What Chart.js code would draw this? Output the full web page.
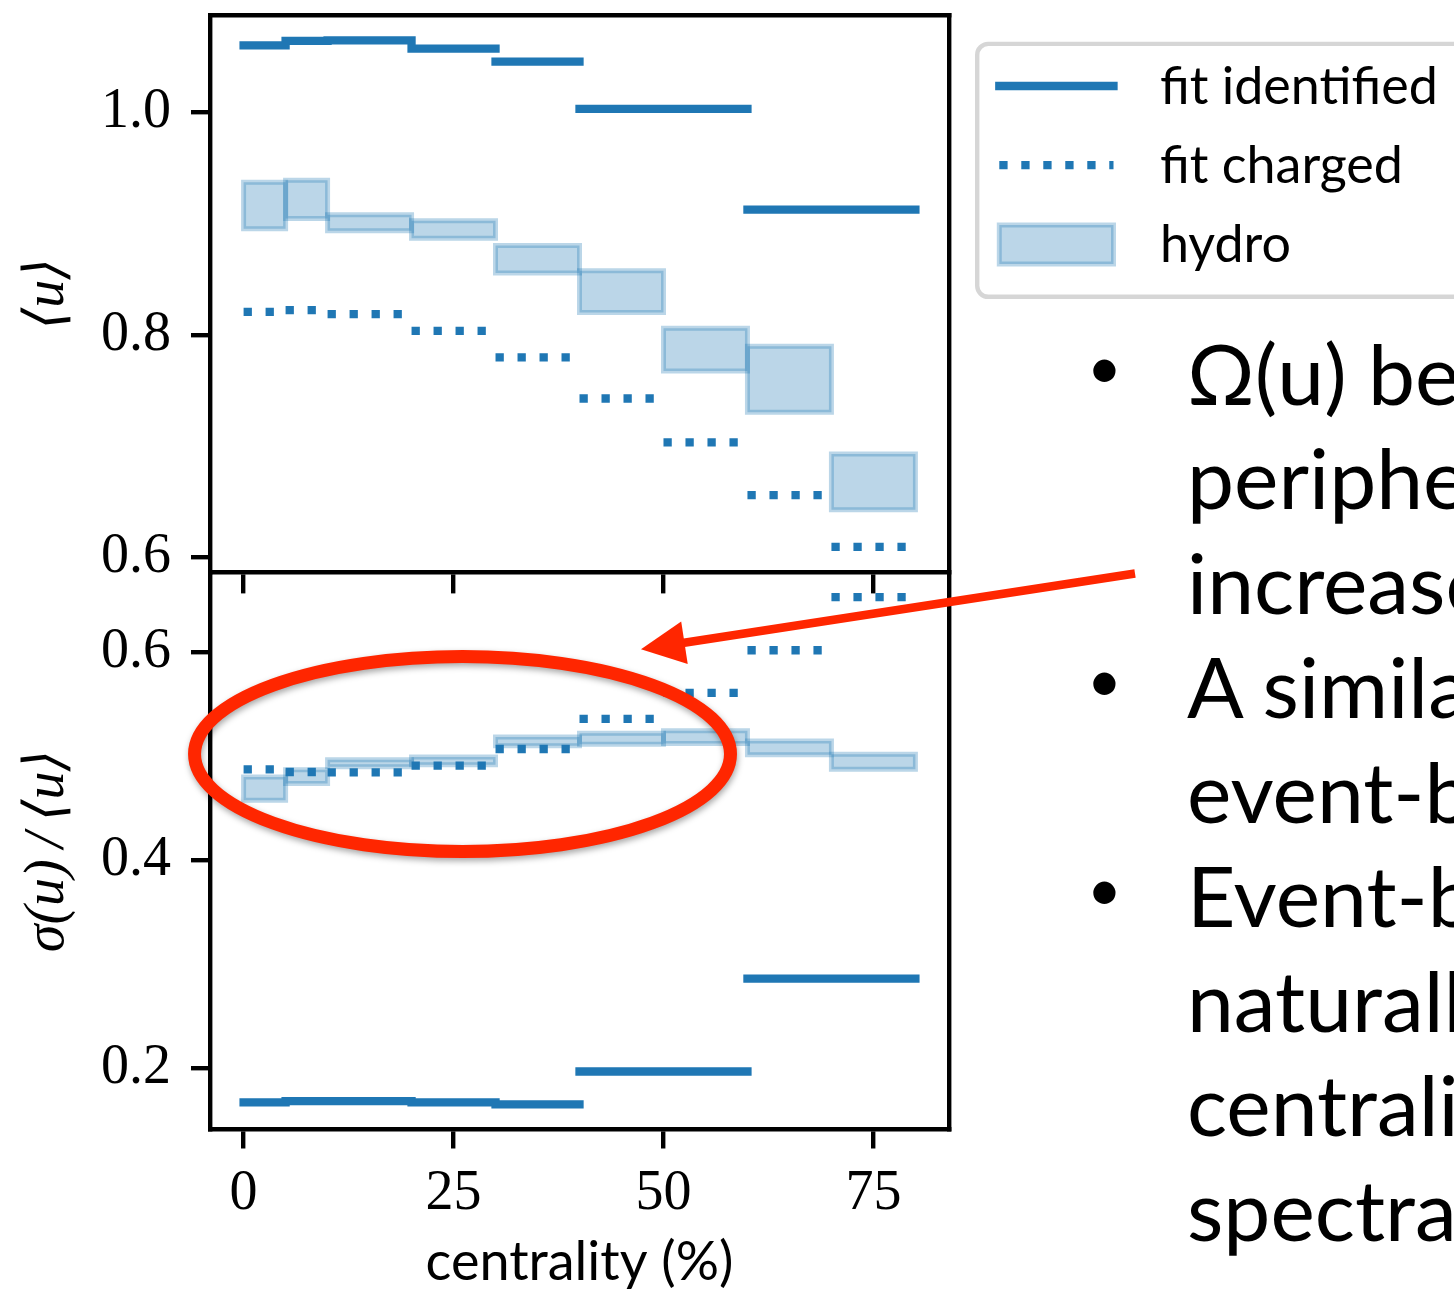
<!DOCTYPE html>
<html lang="en">
<head>
<meta charset="utf-8">
<title>Mean and width of the flow velocity distribution vs centrality</title>
<script src="https://cdn.jsdelivr.net/npm/chart.js@4.4.1/dist/chart.umd.min.js"></script>
<style>
  html, body { margin: 0; padding: 0; background: #fff; }
  #stage { position: relative; width: 1454px; height: 1295px; overflow: hidden; background: #fff; }
  #plot { position: absolute; left: 0; top: 0; }
  #notes { position: absolute; left: 1187px; top: 0; font-family: 'Lato', sans-serif; font-size: 84px; color: #000; }
  #notes div { position: absolute; left: 0; white-space: nowrap; line-height: 84px; height: 84px; }
  #notes .dot { left: -100px; font-size: 60px; margin-top: -7px; }
</style>
</head>
<body>
<div id="stage">
  <canvas id="plot" width="1454" height="1295"></canvas>
  <div id="notes"></div>
</div>
<script>
// ---- centrality bins (%) ----
const identifiedEdges = [0, 5, 10, 20, 30, 40, 60, 80];
const chargedEdges    = [0, 5, 10, 20, 30, 40, 50, 60, 70, 80];
const hydroEdges      = [0, 5, 10, 20, 30, 40, 50, 60, 70, 80];

// ---- upper panel: <u> ----
const meanIdentified = [1.0603, 1.0643, 1.0648, 1.0573, 1.0457, 1.0032, 0.9126];
const meanCharged    = [0.8208, 0.8223, 0.8188, 0.8037, 0.7798, 0.7429, 0.7034, 0.6560, 0.6095];
const meanHydroLow   = [0.8954, 0.9047, 0.8936, 0.8870, 0.8556, 0.8202, 0.7677, 0.7306, 0.6428];
const meanHydroHigh  = [0.9373, 0.9391, 0.9080, 0.9026, 0.8804, 0.8576, 0.8061, 0.7899, 0.6931];

// ---- lower panel: sigma(u)/<u> ----
const widthIdentified = [0.1673, 0.1685, 0.1685, 0.1673, 0.1654, 0.1971, 0.2863];
const widthCharged    = [0.4877, 0.4851, 0.4848, 0.4912, 0.5072, 0.5362, 0.5612, 0.6022, 0.6533];
const widthHydroLow   = [0.4580, 0.4740, 0.4901, 0.4921, 0.5104, 0.5118, 0.5125, 0.5017, 0.4878];
const widthHydroHigh  = [0.4803, 0.4872, 0.4968, 0.4995, 0.5187, 0.5224, 0.5247, 0.5149, 0.5022];

// ---- labels and ticks ----
const seriesLabels    = ['fit identified', 'fit charged', 'hydro'];
const meanTicks       = [0.6, 0.8, 1.0];
const widthTicks      = [0.2, 0.4, 0.6];
const centralityTicks = [0, 25, 50, 75];
const noteLines = [
  { text: 'Ω(u) becomes', bullet: true },
  { text: 'peripheral', bullet: false },
  { text: 'increases', bullet: false },
  { text: 'A similar', bullet: true },
  { text: 'event-by-event', bullet: false },
  { text: 'Event-by-event', bullet: true },
  { text: 'naturally', bullet: false },
  { text: 'centrality', bullet: false },
  { text: 'spectra', bullet: false }
];

// ---- styles ----
const BLUE = '#1f77b4';
const HYDRO = 'rgba(31,119,180,0.3)';
const LW = 8.3;
const SPINE = 4.4;
const SERIF = "'Liberation Serif', 'DejaVu Serif', serif";
const SANS = "'Lato', 'Liberation Sans', sans-serif";

const identifiedStyle = { borderColor: BLUE, borderWidth: LW, borderCapStyle: 'square' };
const chargedStyle = { borderColor: BLUE, borderWidth: LW, borderDash: [LW, LW * 1.65], borderCapStyle: 'butt' };
const hydroStyle = { borderColor: HYDRO, backgroundColor: HYDRO, borderWidth: 5, borderJoinStyle: 'miter',
                     borderCapStyle: 'square', fill: 'shape' };
const common = { pointRadius: 0, pointHoverRadius: 0, tension: 0, spanGaps: false };

// horizontal step per bin, broken between bins
function stepPoints(edges, values) {
  const pts = [];
  values.forEach((v, i) => {
    if (i) pts.push({ x: edges[i], y: null });
    pts.push({ x: edges[i], y: v }, { x: edges[i + 1], y: v });
  });
  return pts;
}
// closed rectangle for one bin of the hydro band
function boxPoints(x0, x1, lo, hi) {
  return [{ x: x0, y: lo }, { x: x1, y: lo }, { x: x1, y: hi }, { x: x0, y: hi }, { x: x0, y: lo }];
}

const datasets = [];
function addPanel(axisId, ident, charged, low, high) {
  datasets.push({ label: seriesLabels[0], yAxisID: axisId, data: stepPoints(identifiedEdges, ident), ...common, ...identifiedStyle });
  datasets.push({ label: seriesLabels[1], yAxisID: axisId, data: stepPoints(chargedEdges, charged), ...common, ...chargedStyle });
  low.forEach((lo, i) => {
    datasets.push({ label: seriesLabels[2], yAxisID: axisId,
                    data: boxPoints(hydroEdges[i], hydroEdges[i + 1], lo, high[i]), ...common, ...hydroStyle });
  });
}
addPanel('yTop', meanIdentified, meanCharged, meanHydroLow, meanHydroHigh);
addPanel('yBot', widthIdentified, widthCharged, widthHydroLow, widthHydroHigh);

// axis limits
const X_MIN = -4, X_MAX = 84;
const TOP_MIN = 0.5867, TOP_MAX = 1.0876;
const BOT_MIN = 0.1413, BOT_MAX = 0.6772;

const tickFont = { family: SERIF, size: 56 };
const frameGrid = { drawOnChartArea: false, color: '#000', lineWidth: SPINE, tickLength: 19 };
const frameBorder = { display: true, color: '#000', width: SPINE };
const fixedTicks = list => scale => { scale.ticks = list.map(v => ({ value: v })); };
// fixed box size, no extra room reserved for overhanging labels
const fitBox = (w, h) => scale => {
  if (w !== null) scale.width = w;
  if (h !== null) scale.height = h;
  scale.paddingTop = scale.paddingBottom = scale.paddingLeft = scale.paddingRight = 0;
};

// annotation: ring around the central bins and a pointer to it (lower panel units)
const ring = { x: 26.07, y: 0.5024, rx: 31.91, ry: 0.0938, width: 13 };
const pointer = { fromX: 106.15, fromY: 0.6760, toX: 47.32, toY: 0.6031, width: 8.5, head: 44, half: 21.5 };
const RED = '#ff2600';

const overlayPlugin = {
  id: 'overlay',
  afterDraw(chart) {
    const { ctx, chartArea, scales } = chart;
    const ds = chart.data.datasets;

    // legend box to the right of the panels
    const fx = chartArea.right + 28.2;
    const fy = chartArea.top + 28.9;
    ctx.save();
    ctx.beginPath();
    ctx.roundRect(fx, fy, 560, 252.9, 11);
    ctx.fillStyle = 'rgba(255,255,255,0.8)';
    ctx.fill();
    ctx.lineWidth = SPINE;
    ctx.strokeStyle = 'rgba(204,204,204,0.8)';
    ctx.stroke();

    const hx0 = fx + 22.1, hx1 = fx + 136.3;
    seriesLabels.forEach((label, i) => {
      const cy = fy + 42.1 + i * 79.2;
      const d = ds[i];
      ctx.save();
      if (i < 2) {
        ctx.beginPath();
        ctx.moveTo(hx0, cy);
        ctx.lineTo(hx1, cy);
        ctx.lineWidth = d.borderWidth;
        ctx.strokeStyle = d.borderColor;
        ctx.lineCap = d.borderCapStyle;
        ctx.setLineDash(d.borderDash || []);
        ctx.stroke();
      } else {
        ctx.beginPath();
        ctx.rect(hx0, cy - 19.5, hx1 - hx0, 39);
        ctx.fillStyle = d.backgroundColor;
        ctx.fill();
        ctx.lineWidth = d.borderWidth;
        ctx.strokeStyle = d.borderColor;
        ctx.lineJoin = 'miter';
        ctx.stroke();
      }
      ctx.restore();
      ctx.fillStyle = '#000';
      ctx.font = '52px ' + SANS;
      ctx.textBaseline = 'middle';
      ctx.textAlign = 'left';
      ctx.fillText(label, fx + 182.8, cy + 1);
    });

    // red ring
    const xs = scales.x, ys = scales.yBot;
    const cx = xs.getPixelForValue(ring.x), cy = ys.getPixelForValue(ring.y);
    const rx = xs.getPixelForValue(ring.x + ring.rx) - cx;
    const ry = cy - ys.getPixelForValue(ring.y + ring.ry);
    ctx.save();
    ctx.shadowColor = 'rgba(0,0,0,0.35)';
    ctx.shadowBlur = 6;
    ctx.shadowOffsetX = 1;
    ctx.shadowOffsetY = 3;
    ctx.beginPath();
    ctx.ellipse(cx, cy, rx, ry, 0, 0, Math.PI * 2);
    ctx.lineWidth = ring.width;
    ctx.strokeStyle = RED;
    ctx.stroke();
    ctx.restore();

    // red pointer
    const ax = xs.getPixelForValue(pointer.fromX), ay = ys.getPixelForValue(pointer.fromY);
    const bx = xs.getPixelForValue(pointer.toX), by = ys.getPixelForValue(pointer.toY);
    const len = Math.hypot(bx - ax, by - ay);
    const ux = (bx - ax) / len, uy = (by - ay) / len;
    const baseX = bx - ux * pointer.head, baseY = by - uy * pointer.head;
    ctx.beginPath();
    ctx.moveTo(ax, ay);
    ctx.lineTo(baseX + ux * 2, baseY + uy * 2);
    ctx.lineWidth = pointer.width;
    ctx.strokeStyle = RED;
    ctx.lineCap = 'butt';
    ctx.stroke();
    ctx.beginPath();
    ctx.moveTo(bx, by);
    ctx.lineTo(baseX - uy * pointer.half, baseY + ux * pointer.half);
    ctx.lineTo(baseX + uy * pointer.half, baseY - ux * pointer.half);
    ctx.closePath();
    ctx.fillStyle = RED;
    ctx.fill();
    ctx.restore();
  }
};

new Chart(document.getElementById('plot'), {
  type: 'line',
  data: { datasets },
  plugins: [overlayPlugin],
  options: {
    responsive: false,
    animation: false,
    devicePixelRatio: 1,
    events: [],
    layout: { padding: { left: 0, top: 15, right: 505, bottom: 0 } },
    plugins: { legend: { display: false }, tooltip: { enabled: false } },
    scales: {
      x: {
        type: 'linear', position: 'bottom', min: X_MIN, max: X_MAX,
        afterBuildTicks: fixedTicks(centralityTicks),
        ticks: { font: tickFont, color: '#000', padding: 12, maxRotation: 0, autoSkip: false, callback: v => String(v) },
        grid: frameGrid, border: frameBorder,
        title: { display: true, text: 'centrality (%)', color: '#000', font: { family: SANS, size: 54 }, padding: { top: 0, bottom: 0 } },
        afterFit: fitBox(null, 165.5)
      },
      xMid: {
        type: 'linear', position: { yTop: TOP_MIN }, min: X_MIN, max: X_MAX,
        afterBuildTicks: fixedTicks(centralityTicks),
        ticks: { display: false },
        grid: frameGrid, border: frameBorder,
        afterFit: fitBox(null, 0)
      },
      xTop: {
        type: 'linear', position: 'top', min: X_MIN, max: X_MAX,
        ticks: { display: false },
        grid: { drawOnChartArea: false, drawTicks: false, lineWidth: SPINE },
        border: frameBorder,
        afterFit: fitBox(null, 0)
      },
      yTop: {
        type: 'linear', position: 'left', stack: 'panels', stackWeight: 1, weight: 1,
        min: TOP_MIN, max: TOP_MAX,
        afterBuildTicks: fixedTicks(meanTicks),
        ticks: { font: tickFont, color: '#000', padding: 20, callback: v => v.toFixed(1) },
        grid: frameGrid, border: frameBorder,
        title: { display: true, text: '⟨u⟩', color: '#000', font: { family: SERIF, size: 56, style: 'italic' }, padding: { top: 15, bottom: 0 } },
        afterFit: fitBox(210, null)
      },
      yBot: {
        type: 'linear', position: 'left', stack: 'panels', stackWeight: 1, weight: 0,
        min: BOT_MIN, max: BOT_MAX,
        afterBuildTicks: fixedTicks(widthTicks),
        ticks: { font: tickFont, color: '#000', padding: 20, callback: v => v.toFixed(1) },
        grid: frameGrid, border: frameBorder,
        title: { display: true, text: 'σ(u)\u2009/\u2009⟨u⟩', color: '#000', font: { family: SERIF, size: 56, style: 'italic' }, padding: { top: 15, bottom: 0 } },
        afterFit: fitBox(210, null)
      },
      yRight: {
        type: 'linear', position: 'right', min: 0, max: 1,
        ticks: { display: false },
        grid: { drawOnChartArea: false, drawTicks: false, lineWidth: SPINE },
        border: frameBorder,
        afterFit: fitBox(0, null)
      }
    }
  }
});

// slide text beside the figure
const notes = document.getElementById('notes');
const FIRST_BASELINE = 405, PITCH = 104.5, BASE_OFFSET = 74.5;
noteLines.forEach((line, i) => {
  const top = FIRST_BASELINE + i * PITCH - BASE_OFFSET;
  const row = document.createElement('div');
  row.style.top = top + 'px';
  row.textContent = line.text;
  notes.appendChild(row);
  if (line.bullet) {
    const dot = document.createElement('div');
    dot.className = 'dot';
    dot.style.top = top + 'px';
    dot.textContent = '•';
    notes.appendChild(dot);
  }
});
</script>
</body>
</html>
